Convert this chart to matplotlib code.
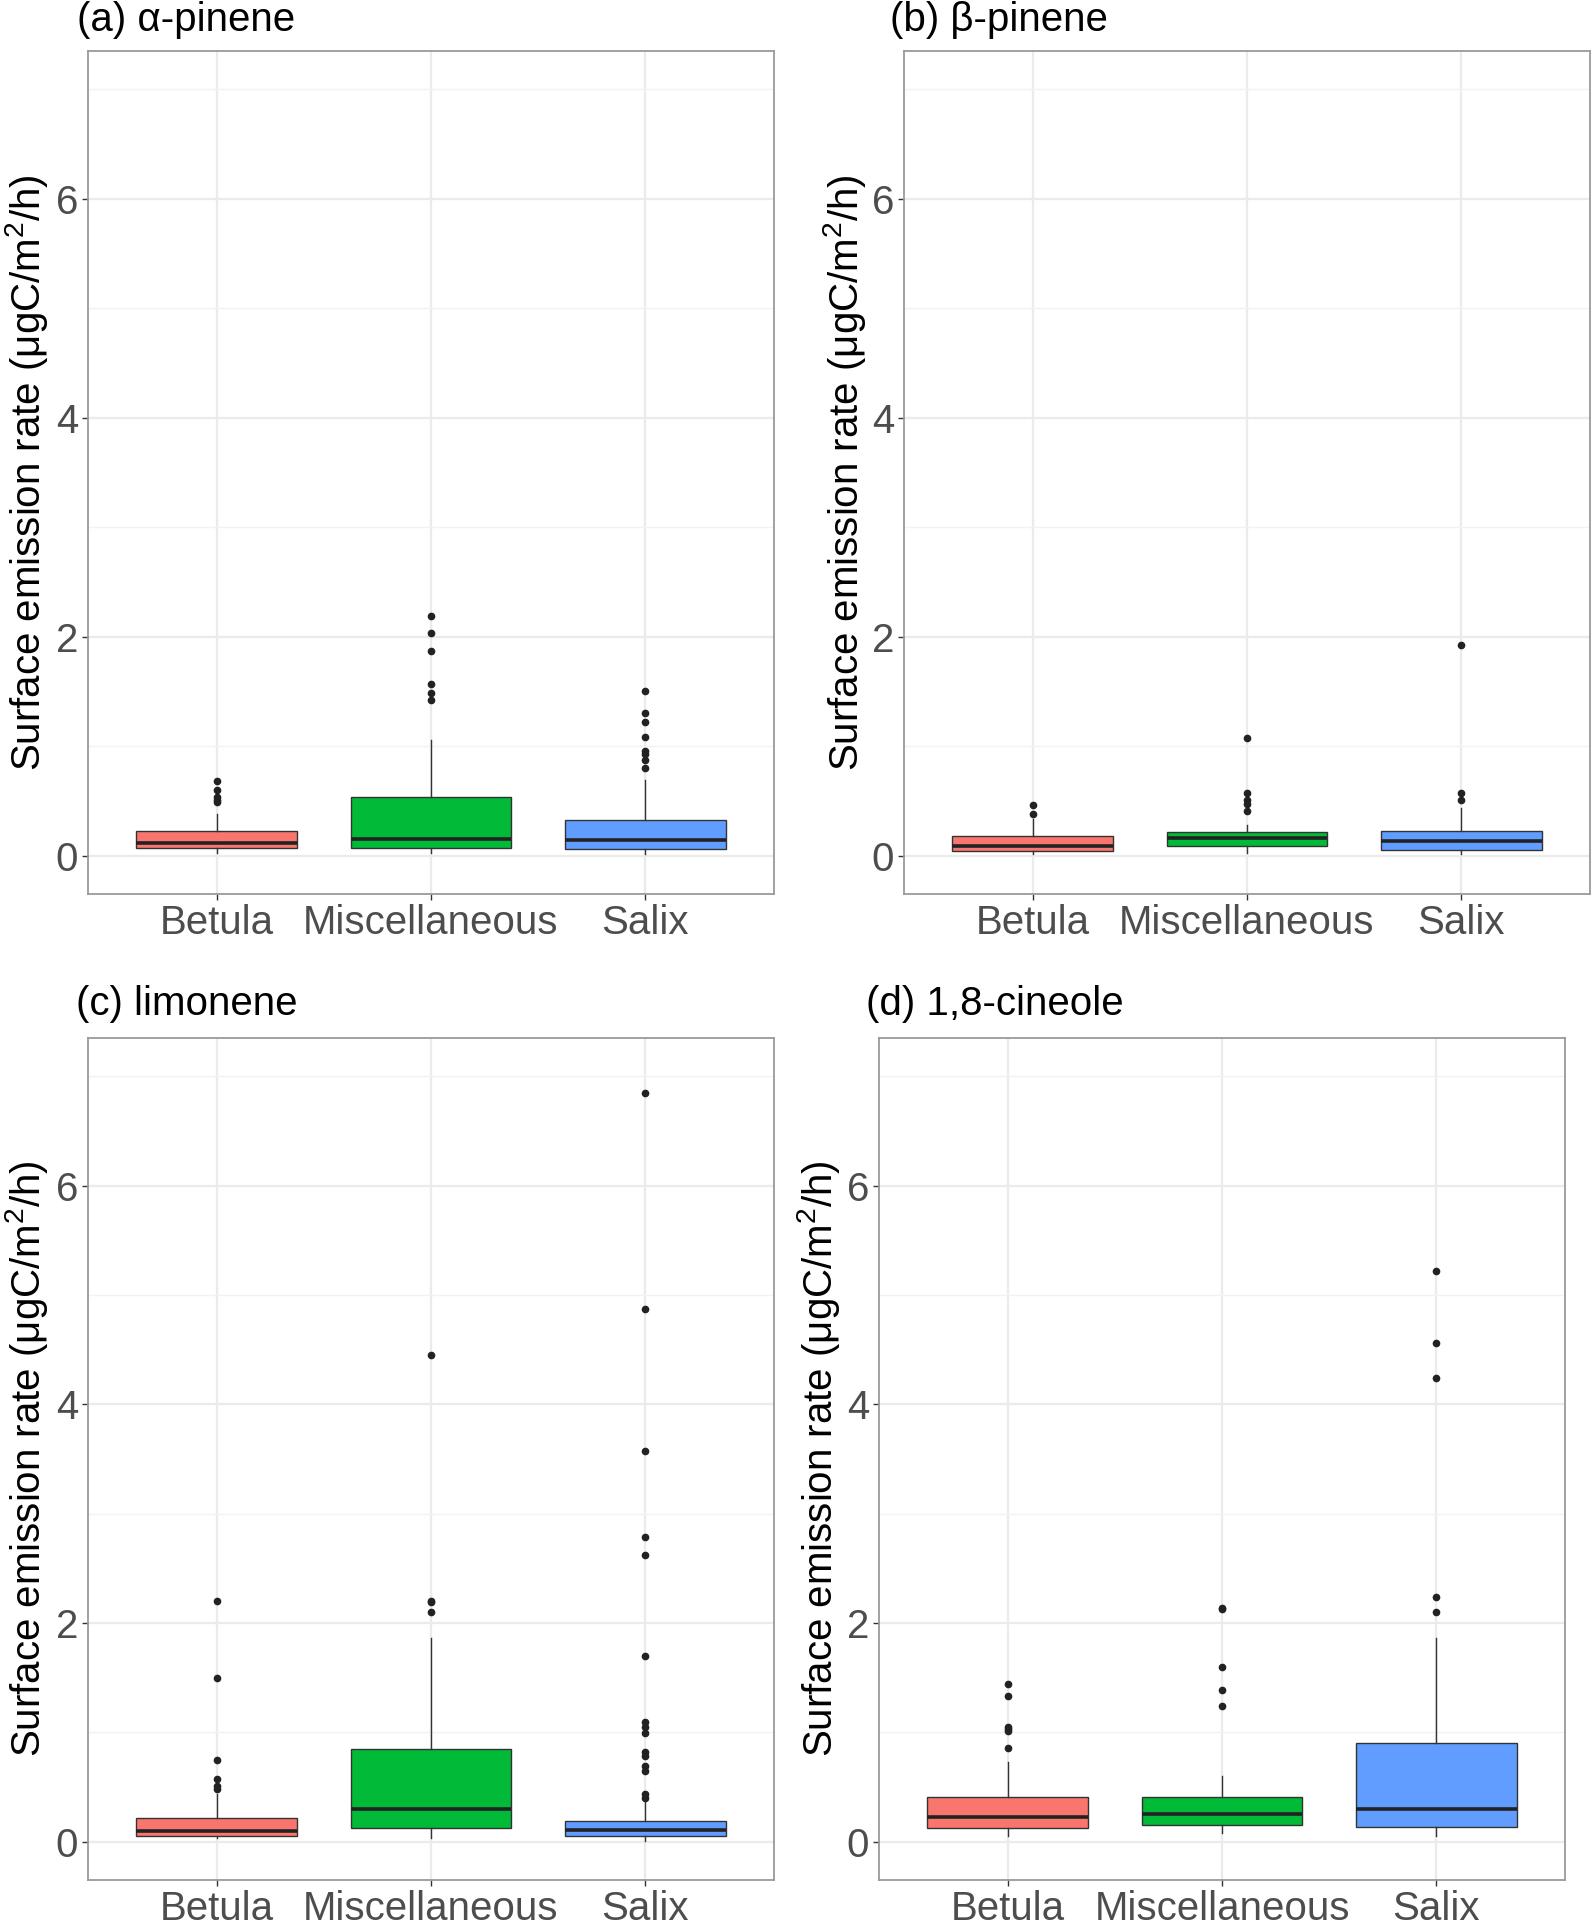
import matplotlib
matplotlib.use("Agg")
import matplotlib.pyplot as plt

plt.rcParams['font.family'] = ['Liberation Sans', 'DejaVu Sans']
plt.rcParams['mathtext.fontset'] = 'custom'
plt.rcParams['mathtext.rm'] = 'Liberation Sans'
plt.rcParams['mathtext.it'] = 'Liberation Sans:italic'

categories = ["Betula", "Miscellaneous", "Salix"]
colors = ["#F8766D", "#00BA38", "#619CFF"]
titles = ["(a) α-pinene", "(b) β-pinene", "(c) limonene", "(d) 1,8-cineole"]
ylabel = "Surface emission rate (μgC/m$^2$/h)"
yticks = [0, 2, 4, 6]

# per-panel box statistics: [Betula, Miscellaneous, Salix]
a_q1 = [0.07, 0.067, 0.061]
a_med = [0.112, 0.152, 0.146]
a_q3 = [0.222, 0.532, 0.328]
a_lo = [0.024, 0.024, 0.018]
a_hi = [0.38, 1.058, 0.693]
a_fl = [[0.68, 0.596, 0.54, 0.51, 0.486],
        [2.19, 2.03, 1.87, 1.565, 1.483, 1.42],
        [1.505, 1.307, 1.219, 1.088, 0.96, 0.93, 0.875, 0.80]]

b_q1 = [0.043, 0.085, 0.055]
b_med = [0.085, 0.158, 0.134]
b_q3 = [0.182, 0.213, 0.225]
b_lo = [0.018, 0.024, 0.018]
b_hi = [0.334, 0.283, 0.432]
b_fl = [[0.462, 0.383],
        [1.073, 0.568, 0.505, 0.474, 0.407],
        [1.927, 0.568, 0.51]]

c_q1 = [0.055, 0.128, 0.055]
c_med = [0.098, 0.296, 0.11]
c_q3 = [0.217, 0.852, 0.186]
c_lo = [0.03, 0.03, 0.006]
c_hi = [0.437, 1.863, 0.36]
c_fl = [[2.20, 1.496, 0.748, 0.574, 0.507, 0.482],
        [4.45, 2.20, 2.19, 2.098],
        [6.85, 4.874, 3.575, 2.79, 2.62, 1.70, 1.093, 1.047, 0.99, 0.818,
         0.78, 0.696, 0.647, 0.434, 0.403]]

d_q1 = [0.128, 0.15, 0.137]
d_med = [0.223, 0.256, 0.302]
d_q3 = [0.409, 0.409, 0.90]
d_lo = [0.049, 0.079, 0.055]
d_hi = [0.727, 0.598, 1.863]
d_fl = [[1.441, 1.337, 1.053, 1.032, 1.014, 0.855],
        [2.14, 2.13, 1.594, 1.383, 1.237],
        [5.22, 4.565, 4.24, 2.235, 2.098]]

panels = [
    (a_q1, a_med, a_q3, a_lo, a_hi, a_fl),
    (b_q1, b_med, b_q3, b_lo, b_hi, b_fl),
    (c_q1, c_med, c_q3, c_lo, c_hi, c_fl),
    (d_q1, d_med, d_q3, d_lo, d_hi, d_fl),
]

W, H = 1592, 1920
fig = plt.figure(figsize=(W / 100, H / 100), dpi=100)

# axes rectangles in pixels: left, top, right, bottom
rects = [(88, 51, 774, 894), (904, 51, 1590, 894),
         (88, 1038, 774, 1880), (879, 1038, 1565, 1880)]
title_pos = [(77, 20), (890, 20), (76, 1004), (866, 1004)]
ylab_x = [27, 845, 27, 818]

FS = 29
for i, (st, (l, t, r, b)) in enumerate(zip(panels, rects)):
    ax = fig.add_axes([l / W, 1 - b / H, (r - l) / W, (b - t) / H])
    q1, med, q3, lo, hi, fl = st
    stats = []
    for k, cat in enumerate(categories):
        stats.append(dict(label=cat, q1=q1[k], med=med[k], q3=q3[k],
                          whislo=lo[k], whishi=hi[k], fliers=fl[k]))
    bp = ax.bxp(stats, positions=[1, 2, 3], widths=0.75, patch_artist=True,
                showcaps=False,
                boxprops=dict(edgecolor="#333333", linewidth=1.0),
                medianprops=dict(color="#222222", linewidth=2.6),
                whiskerprops=dict(color="#333333", linewidth=1.0),
                flierprops=dict(marker="o", markerfacecolor="#222222",
                                markeredgecolor="#222222", markersize=4.5))
    for patch, c in zip(bp['boxes'], colors):
        patch.set_facecolor(c)
    for w in bp['whiskers'] + bp['boxes'] + bp['medians'] + bp['fliers']:
        w.set_zorder(3)
    ax.set_xlim(0.4, 3.6)
    ax.set_ylim(-0.35, 7.35)
    ax.set_yticks(yticks)
    ax.set_yticks([1, 3, 5, 7], minor=True)
    ax.grid(True, which='major', color="#EBEBEB", linewidth=1.6, zorder=0)
    ax.grid(True, which='minor', axis='y', color="#F2F2F2", linewidth=1.0, zorder=0)
    ax.set_axisbelow(True)
    ax.tick_params(axis='both', which='major', labelsize=FS, labelcolor="#4D4D4D",
                   color="#333333", length=4, width=1, pad=3)
    ax.tick_params(axis='y', which='minor', length=0)
    ax.set_xticks([1, 2, 3])
    ax.set_xticklabels(categories)
    for sp in ax.spines.values():
        sp.set_color("#9A9A9A")
        sp.set_linewidth(1.3)
    fig.text(title_pos[i][0] / W, 1 - title_pos[i][1] / H, titles[i],
             fontsize=FS, ha='left', va='center', color='black')
    fig.text(ylab_x[i] / W, 1 - ((t + b) / 2) / H, ylabel, fontsize=FS,
             rotation=90, ha='center', va='center', color='black')

fig.savefig("out.png", dpi=100)
